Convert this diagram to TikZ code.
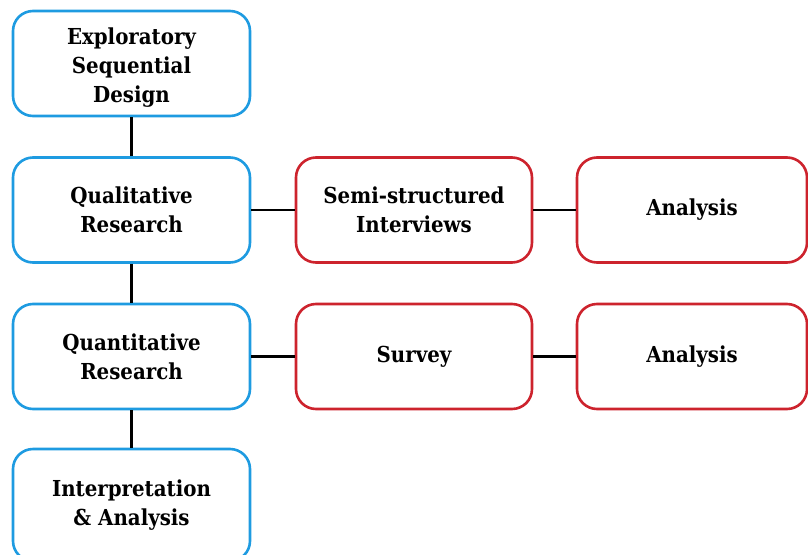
\documentclass[tikz,border=0pt]{standalone}
\usepackage{fontspec}
\setmainfont{DejaVu Serif Condensed}
\definecolor{bluebox}{RGB}{30,155,225}
\definecolor{redbox}{RGB}{205,35,45}
\newcommand\padtoplines[2]{\raisebox{0pt}[\dimexpr\height+#1\relax][\depth]{\begin{tabular}{@{}c@{}}#2\end{tabular}}}
\begin{document}
\begin{tikzpicture}[x=1pt,y=-1pt,
  boxbase/.style={rectangle,rounded corners=20pt,line width=2.6pt,fill=white,
    align=center,font=\bfseries\fontsize{22}{29}\selectfont,inner sep=0pt},
  bluestep/.style={boxbase,draw=bluebox,minimum width=237pt},
  redstep/.style={boxbase,draw=redbox,minimum width=236pt},
  link/.style={line width=2.6pt,black}]
\useasboundingbox (0,0) rectangle (808,554);
\node[bluestep,minimum height=105pt] (eds) at (131.5,63.5) {\padtoplines{9pt}{Exploratory\\Sequential\\Design}};
\node[bluestep,minimum height=105pt] (qual) at (131.5,210) {Qualitative\\Research};
\node[bluestep,minimum height=105pt] (quant) at (131.5,356.5) {Quantitative\\Research};
\node[bluestep,minimum height=112pt] (interp) at (131.5,505) {Interpretation\\\& Analysis};
\node[redstep,minimum height=105pt] (ssi) at (414,210) {Semi-structured\\Interviews};
\node[redstep,minimum height=105pt] (survey) at (414,356.5) {Survey};
\node[redstep,minimum width=230pt,minimum height=105pt] (an1) at (692,210) {Analysis};
\node[redstep,minimum width=230pt,minimum height=105pt] (an2) at (692,356.5) {Analysis};
\draw[link] (eds) -- (qual);
\draw[link] (qual) -- (quant);
\draw[link] (quant) -- (interp);
\draw[link] (qual) -- (ssi);
\draw[link] (ssi) -- (an1);
\draw[link] (quant) -- (survey);
\draw[link] (survey) -- (an2);
\end{tikzpicture}
\end{document}
